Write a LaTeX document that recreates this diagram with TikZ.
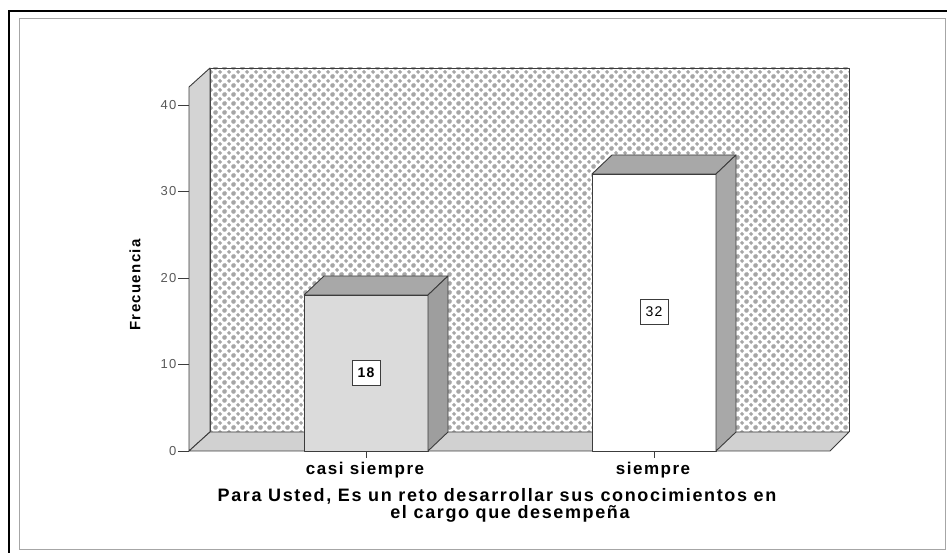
\documentclass[tikz,border=0pt]{standalone}
\usepackage{fontspec}
\newfontfamily\chartfont[LetterSpace=9]{Liberation Sans}
\usepackage{tikz}
\usetikzlibrary{patterns.meta}

\definecolor{outl}{HTML}{3C3C3C}

\tikzdeclarepattern{
	name=wallpat,
	type=uncolored,
	bounding box={(0pt,0pt) and (9pt,9pt)},
	tile size={(9pt,9pt)},
	code={
		\foreach \px/\py in {4.5/4.5, 0/0, 9/0, 0/9, 9/9}
			\fill (\px pt,\py pt) +(-2.3pt,0) -- +(0,2.3pt) -- +(2.3pt,0) -- +(0,-2.3pt) -- cycle;
	}
}

\begin{document}
\begin{tikzpicture}[x=1pt, y=1pt,
	face/.style = {draw=outl, line width=0.9pt, line join=round},
	val/.style = {draw=outl, fill=white, line width=0.6pt, inner sep=0pt,
		minimum width=28pt, minimum height=25pt, font=\chartfont\fontsize{14}{16}\selectfont},
	tick/.style = {anchor=east, inner sep=1.5pt, text=black!65, font=\chartfont\fontsize{13}{15}\selectfont},
	cat/.style = {inner sep=0pt, font=\chartfont\bfseries\fontsize{17}{20}\selectfont},
	ttl/.style = {inner sep=0pt, anchor=base, font=\chartfont\bfseries\fontsize{18}{20}\selectfont}]
			
			\useasboundingbox (0,0) rectangle (947,553);
			
			\draw[black!35, line width=1pt] (19,3) rectangle (945,534);
			\draw[line width=2.2pt] (9,0) -- (9,542) -- (947,542);
			
			
			\fill[white] (210,121) rectangle (849,485);
			\fill[pattern=wallpat, pattern color=black!35] (210,121) rectangle (849,485);
			\draw[face] (210,121) -- (210,485) -- (849,485) -- (849,121);
			\draw[face, fill=black!17] (189,102) -- (189,466) -- (210,485) -- (210,121) -- cycle;
			\draw[face, fill=black!18] (189,102) -- (830,102) -- (849,121) -- (210,121) -- cycle;
			
			
			\draw[face, fill=black!14] (304,102) rectangle (428,258);
			\draw[face, fill=black!34] (304,258) -- (324,277) -- (448,277) -- (428,258) -- cycle;
			\draw[face, fill=black!38] (428,102) -- (448,121) -- (448,277) -- (428,258) -- cycle;
			
			\draw[face, fill=white] (592,102) rectangle (716,379);
			\draw[face, fill=black!34] (592,379) -- (612,398) -- (736,398) -- (716,379) -- cycle;
			\draw[face, fill=black!34] (716,102) -- (736,121) -- (736,398) -- (716,379) -- cycle;
			
			\node[val] (v18) at (366,180) {\bfseries 18};
			\node[val] (v32) at (654,241) {32};
			
			
			\foreach \v in {0,10,...,40} {
				\coordinate (a\v) at (189,{102+8.65*\v});
				\node[tick] (t\v) at (178,{102+8.65*\v}) {\v};
				\draw[outl, line width=0.8pt] (t\v.east) -- (a\v);
			}
			
			\coordinate (k1) at (366,95);
			\coordinate (k2) at (654,95);
			\draw[outl, line width=0.8pt] (k1) -- (366,102);
			\draw[outl, line width=0.8pt] (k2) -- (654,102);
			
			\node[cat] (c1) at (365,82.5) {casi siempre};
			\node[cat] (c2) at (653,82.5) {siempre};
			
			\node[ttl] (ttl1) at (497,51) {Para Usted, Es un reto desarrollar sus conocimientos en};
			\node[ttl] (ttl2) at (510,34) {el cargo que desempeña};
			
			\node[cat, rotate=90, font=\chartfont\bfseries\fontsize{15}{17}\selectfont] (ylab) at (135,268) {Frecuencia};
			
\end{tikzpicture}
\end{document}
